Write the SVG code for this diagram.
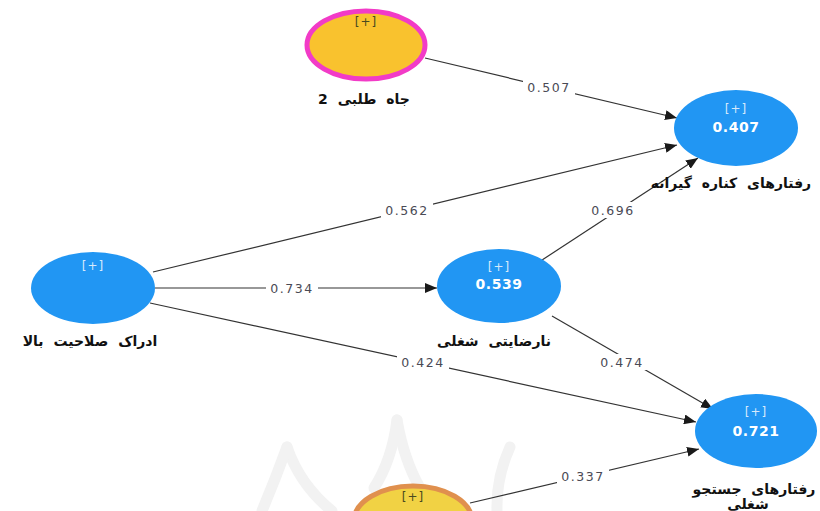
<svg xmlns="http://www.w3.org/2000/svg" width="820" height="511" viewBox="0 0 820 511">
<defs>
<marker id="arr" viewBox="0 0 12 10" refX="12" refY="5" markerWidth="12" markerHeight="10" markerUnits="userSpaceOnUse" orient="auto">
<path d="M0,0 L12,5 L0,10 Z" fill="#1a1a1a"/>
</marker>
<style>
.edge{stroke:#333;stroke-width:1.2;fill:none;marker-end:url(#arr)}
.lblbg{fill:#fff}
.lbl{font-family:"DejaVu Sans",sans-serif;font-size:12.5px;letter-spacing:1.5px;fill:#4a4a55;text-anchor:middle;dominant-baseline:central}
.blue{fill:#2196F3}
.plusw{font-family:"DejaVu Sans",sans-serif;font-size:12px;letter-spacing:1px;fill:#d6e9fb;text-anchor:middle;dominant-baseline:central}
.plusd{font-family:"DejaVu Sans",sans-serif;font-size:12px;letter-spacing:1px;fill:#4a4a20;text-anchor:middle;dominant-baseline:central}
.val{font-family:"DejaVu Sans",sans-serif;font-size:14px;font-weight:bold;letter-spacing:0.5px;fill:#fff;text-anchor:middle;dominant-baseline:central}
.name{font-family:"DejaVu Sans",sans-serif;font-size:14px;font-weight:bold;fill:#111;text-anchor:middle;word-spacing:5px}
.wm{fill:none;stroke:#f2f2f2;stroke-width:11;stroke-linecap:round}
</style>
</defs>
<rect width="820" height="511" fill="#fff"/>
<g id="watermark">
<path class="wm" d="M287,447 Q300,485 332,511"/>
<path class="wm" d="M287,447 Q275,480 262,511"/>
<path class="wm" d="M397,420 Q392,460 374,488"/>
<path class="wm" d="M397,420 Q404,460 420,488"/>
<path class="wm" d="M510,447 Q496,478 497,511"/>
</g>
<g id="connectors">
<line class="edge" x1="425" y1="58" x2="677" y2="118"/>
<line class="edge" x1="153" y1="272" x2="677" y2="145"/>
<line class="edge" x1="155" y1="288" x2="437" y2="288"/>
<line class="edge" x1="150" y1="303" x2="696" y2="422"/>
<line class="edge" x1="539" y1="262" x2="698" y2="158"/>
<line class="edge" x1="552" y1="316" x2="713" y2="409"/>
<line class="edge" x1="470" y1="503" x2="699" y2="449"/>
<rect class="lblbg" x="523" y="79" width="52" height="16"/>
<text class="lbl" x="549" y="87">0.507</text>
<rect class="lblbg" x="381" y="202" width="52" height="16"/>
<text class="lbl" x="407" y="210">0.562</text>
<rect class="lblbg" x="266" y="280" width="52" height="16"/>
<text class="lbl" x="292" y="288">0.734</text>
<rect class="lblbg" x="397" y="354" width="52" height="16"/>
<text class="lbl" x="423" y="362">0.424</text>
<rect class="lblbg" x="587" y="202" width="52" height="16"/>
<text class="lbl" x="613" y="210">0.696</text>
<rect class="lblbg" x="596" y="354" width="52" height="16"/>
<text class="lbl" x="622" y="362">0.474</text>
<rect class="lblbg" x="557" y="468" width="52" height="16"/>
<text class="lbl" x="583" y="476">0.337</text>
</g>
<g id="node-jah">
<ellipse cx="366" cy="45" rx="59" ry="34" fill="#F9C22E" stroke="#F23BC7" stroke-width="5"/>
<text class="plusd" x="366" y="22">[+]</text>
<text class="name" x="364" y="104" direction="rtl">جاه طلبی 2</text>
</g>
<g id="node-kenare">
<ellipse class="blue" cx="736" cy="128" rx="62" ry="38"/>
<text class="plusw" x="736" y="109">[+]</text>
<text class="val" x="736" y="127">0.407</text>
<text class="name" x="731" y="188" direction="rtl">رفتارهای کناره گیرانه</text>
</g>
<g id="node-edrak">
<ellipse class="blue" cx="93" cy="288" rx="62" ry="36"/>
<text class="plusw" x="93" y="266">[+]</text>
<text class="name" x="90" y="346" direction="rtl">ادراک صلاحیت بالا</text>
</g>
<g id="node-narezayati">
<ellipse class="blue" cx="499" cy="286" rx="62" ry="37"/>
<text class="plusw" x="499" y="267">[+]</text>
<text class="val" x="499" y="284">0.539</text>
<text class="name" x="494" y="346" direction="rtl">نارضایتی شغلی</text>
</g>
<g id="node-jostoju">
<ellipse class="blue" cx="756" cy="431" rx="61" ry="37"/>
<text class="plusw" x="756" y="412">[+]</text>
<text class="val" x="756" y="431">0.721</text>
<text class="name" x="754" y="494" direction="rtl">رفتارهای جستجو</text>
<text class="name" x="748" y="509" direction="rtl">شغلی</text>
</g>
<g id="node-bottom">
<ellipse cx="413" cy="521" rx="59" ry="35" fill="#F1D244" stroke="#E0904E" stroke-width="5"/>
<text class="plusd" x="413" y="497">[+]</text>
</g>
</svg>
